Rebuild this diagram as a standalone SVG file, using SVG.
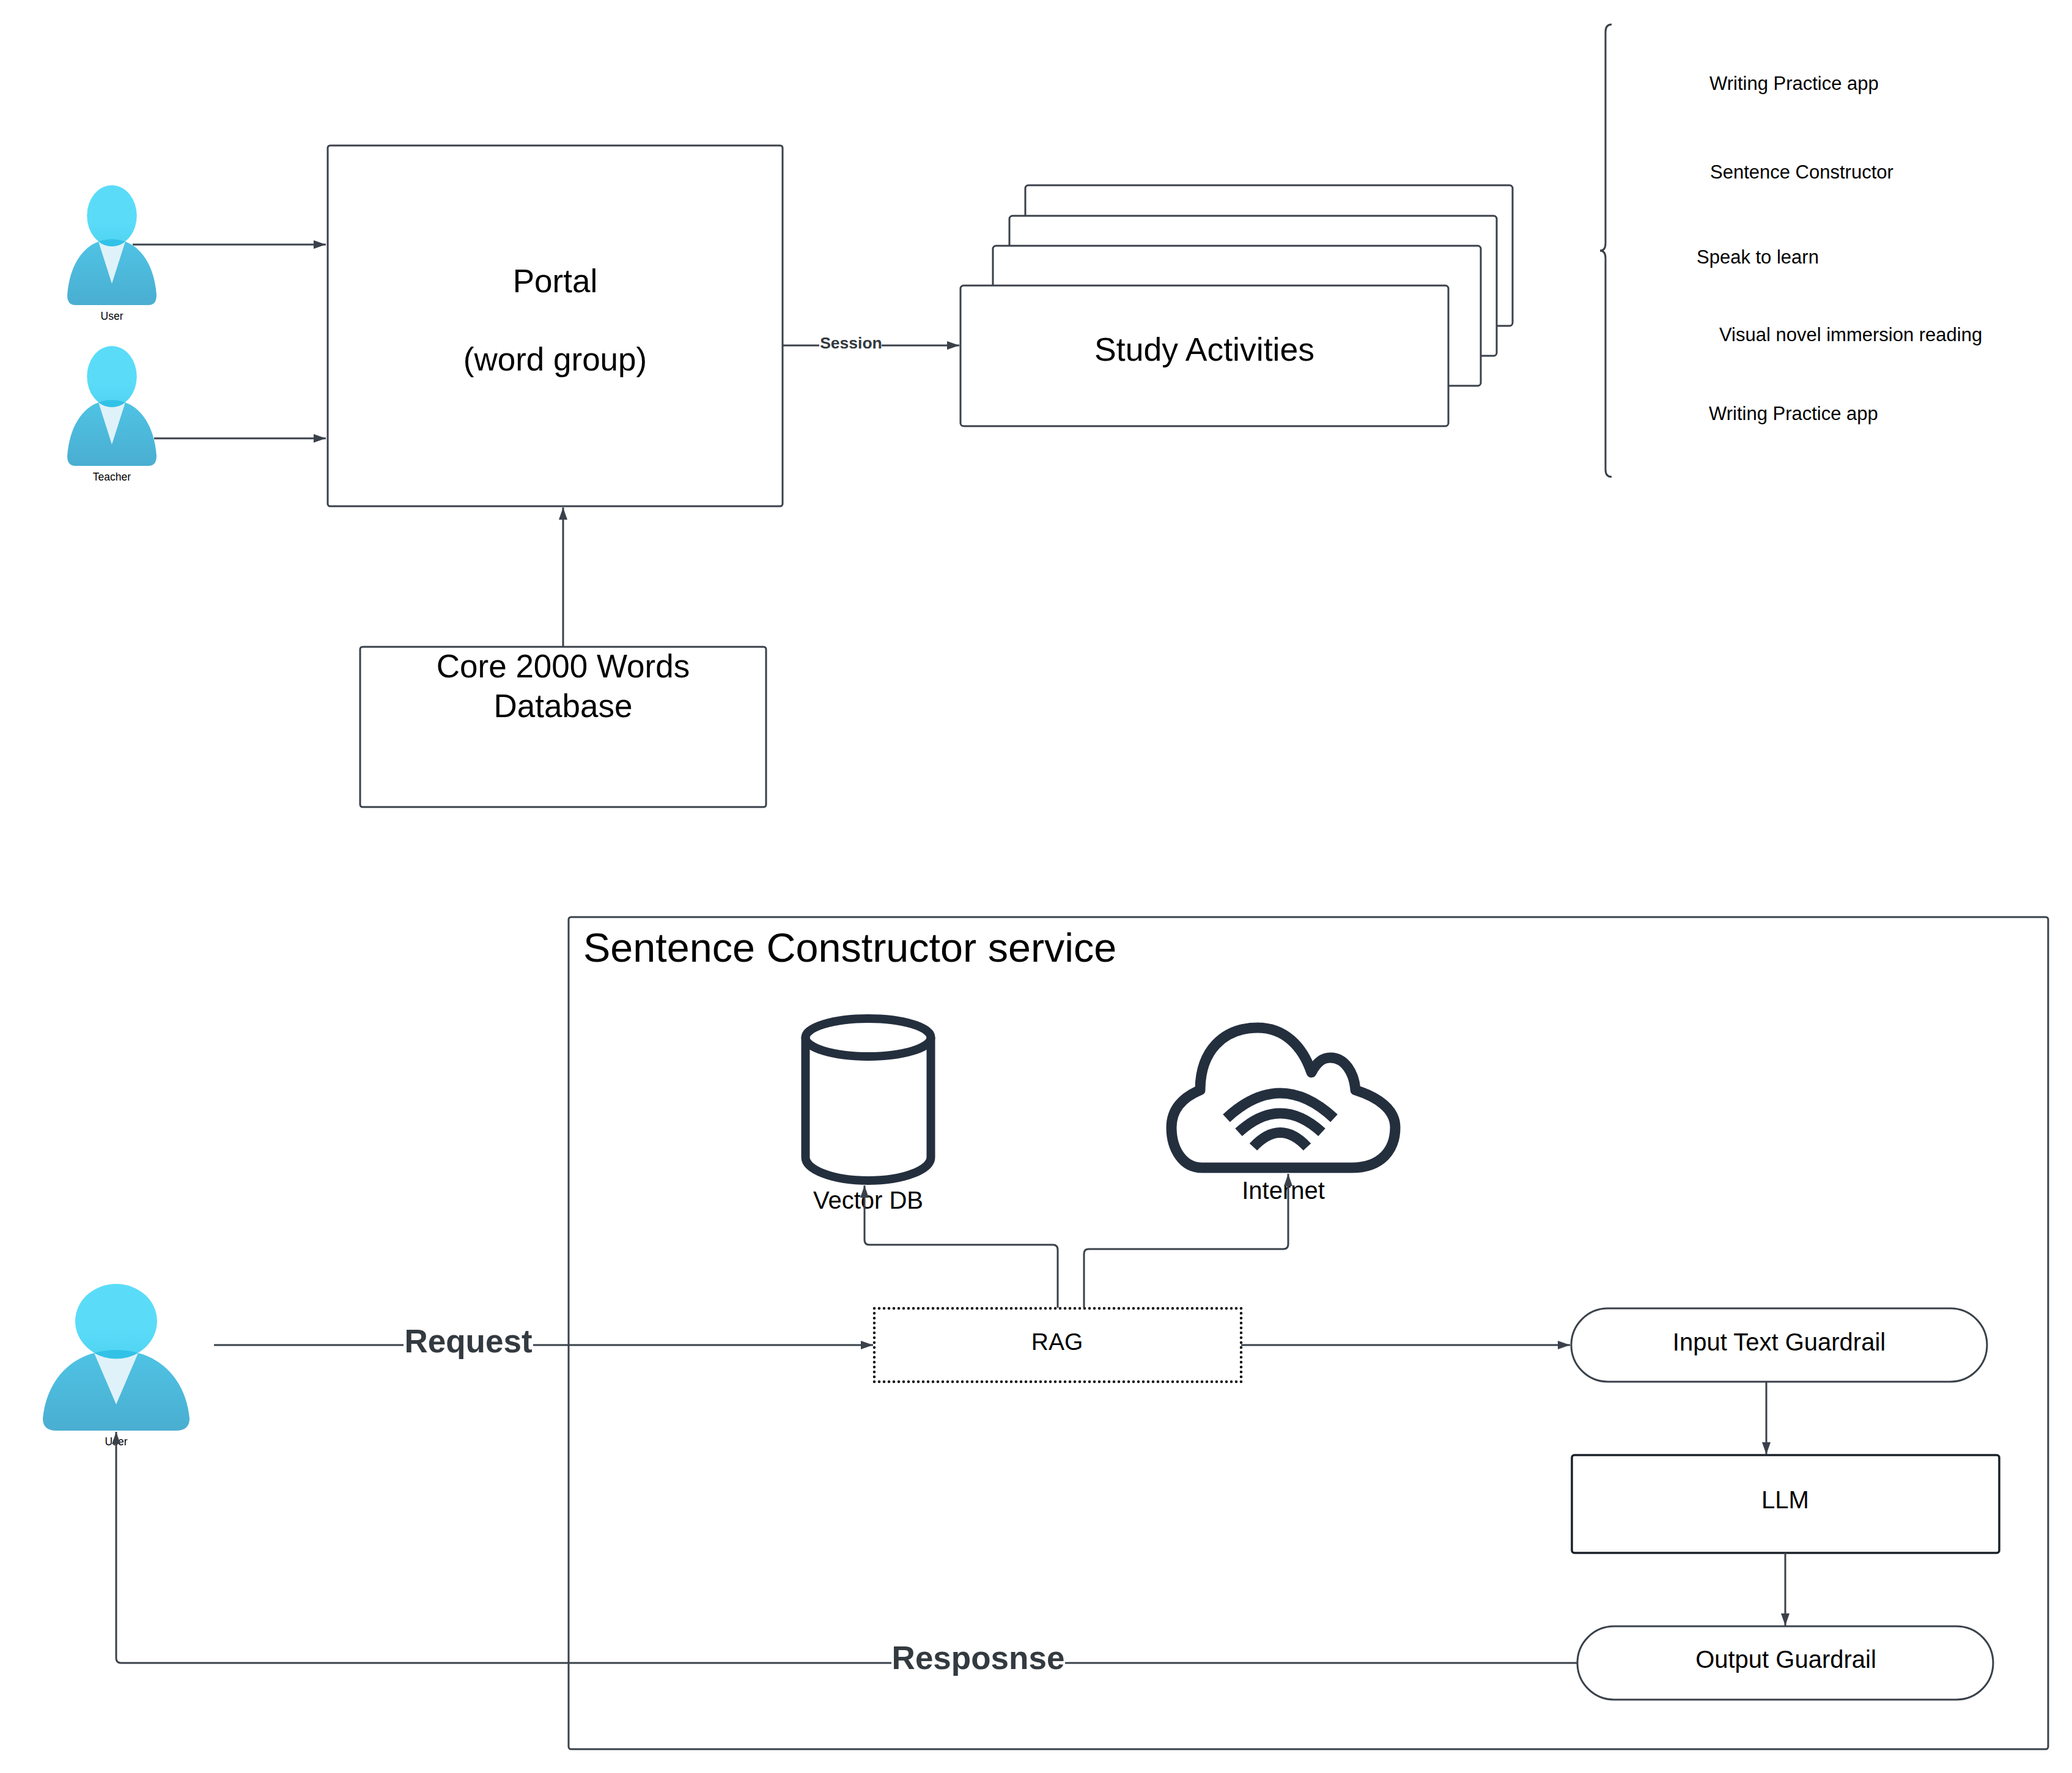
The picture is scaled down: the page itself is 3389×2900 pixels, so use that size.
<svg xmlns="http://www.w3.org/2000/svg" xmlns:xlink="http://www.w3.org/1999/xlink" width="3389" height="2900" viewBox="0 0 3389 2900">
<style>
text{font-family:"Liberation Sans",Arial,sans-serif;fill:#000}
.m{text-anchor:middle}
.f53{font-size:53px}.f40{font-size:40px}.f31{font-size:31px}.f17{font-size:17.5px}
.box{fill:#fff;stroke:#3a414a;stroke-width:3}
.conn{fill:none;stroke:#3a414a;stroke-width:3;stroke-linejoin:round;marker-end:url(#arrow)}
.lbl{font-weight:700;fill:#333a40}
.ink{fill:none;stroke:#242f3e;stroke-linejoin:round}
</style>
<defs>
<marker id="arrow" markerUnits="userSpaceOnUse" markerWidth="21" markerHeight="16" refX="20" refY="8" orient="auto"><path d="M0 1 L20 8 L0 15 Z" fill="#3a414a"/></marker>
<linearGradient id="hg" x1="0" y1="0" x2="0" y2="1"><stop offset="0" stop-color="#5adcf9"/><stop offset="0.6" stop-color="#5adcf9"/><stop offset="1" stop-color="#4fd3f1"/></linearGradient>
<linearGradient id="bg" x1="0" y1="0" x2="0" y2="1"><stop offset="0" stop-color="#4fc3e4"/><stop offset="1" stop-color="#4aaed1"/></linearGradient>
<symbol id="person" viewBox="0 0 240 240" preserveAspectRatio="none">
<path d="M22 240 Q0 240 0 220 C6 160 42 124 84 113 L156 113 C198 124 234 160 240 220 Q240 240 218 240 Z" fill="url(#bg)"/>
<path d="M84 113 L156 113 L120 197 Z" fill="#dff2f9"/>
<ellipse cx="120" cy="61" rx="67" ry="61" fill="url(#hg)"/>
<path d="M84 113 Q120 103 156 113 A67 61 0 0 1 84 113 Z" fill="#33c2e7"/>
</symbol>
</defs>
<rect width="3389" height="2900" fill="#fff"/>
<g id="user-top"><use xlink:href="#person" href="#person" x="110" y="303" width="146" height="196"/><text class="m f17" x="183" y="523">User</text></g>
<g id="teacher"><use xlink:href="#person" href="#person" x="110" y="566" width="146" height="196"/><text class="m f17" x="183" y="786">Teacher</text></g>
<g id="portal"><rect class="box" x="536" y="238" width="744" height="590" rx="4"/><text class="m f53" x="908" y="478">Portal</text><text class="m f53" x="908" y="606">(word group)</text></g>
<g id="study-stack">
<rect class="box" x="1677" y="303" width="797" height="230" rx="5"/>
<rect class="box" x="1651" y="353" width="797" height="229" rx="5"/>
<rect class="box" x="1624" y="402" width="798" height="229" rx="5"/>
<rect class="box" x="1571" y="467" width="798" height="230" rx="5"/>
<text class="m" font-size="53.5" x="1970" y="590">Study Activities</text></g>
<g id="core-db"><rect class="box" x="589" y="1058" width="664" height="262" rx="4"/><text class="m f53" x="921" y="1108">Core 2000 Words</text><text class="m f53" x="921" y="1173">Database</text></g>
<g id="activities-list"><path d="M2636 40 Q2626 40 2626 52 L2626 398 Q2626 410 2617 410 Q2626 410 2626 422 L2626 768 Q2626 780 2636 780" fill="none" stroke="#3a414a" stroke-width="3"/>
<text class="f31" x="2796" y="147">Writing Practice app</text>
<text class="f31" x="2797" y="292">Sentence Constructor</text>
<text class="f31" x="2775" y="431">Speak to learn</text>
<text class="f31" x="2812" y="558">Visual novel immersion reading</text>
<text class="f31" x="2795" y="687">Writing Practice app</text></g>
<g id="service"><rect x="930" y="1500" width="2420" height="1361" rx="4" fill="none" stroke="#3a414a" stroke-width="3"/><text x="954" y="1573" font-size="66.5">Sentence Constructor service</text></g>
<g id="vector-db"><path class="ink" stroke-width="14" d="M1317.5 1696 L1317.5 1893 C1317.5 1913 1362 1931 1420 1931 C1478 1931 1522.5 1913 1522.5 1893 L1522.5 1696"/><ellipse class="ink" stroke-width="14" cx="1420" cy="1697" rx="102.5" ry="31"/><text class="m f40" x="1420" y="1977">Vector DB</text></g>
<g id="internet"><path class="ink" stroke-width="17" d="M1966 1910 C1935 1910 1916 1880 1916 1844 C1916 1815 1934 1795 1963 1783 C1963 1720 2000 1681 2057 1681 C2100 1681 2130 1710 2145 1754 C2155 1735 2165 1730 2176 1730 C2200 1730 2215 1755 2217 1783 C2255 1795 2282 1815 2282 1844 C2282 1880 2260 1910 2211 1910 Z"/><path class="ink" stroke-width="17" d="M2006 1829 Q2094 1747 2182 1829 M2026 1852 Q2094 1790 2162 1852 M2050 1876 Q2094 1829 2138 1876"/><text class="m f40" x="2099" y="1961">Internet</text></g>
<g id="rag"><rect x="1430" y="2140" width="600" height="120" fill="#fff" stroke="#111" stroke-width="4.5" stroke-linecap="round" stroke-dasharray="0 8"/><text class="m" font-size="39" x="1729" y="2208">RAG</text></g>
<g id="input-guardrail"><rect class="box" x="2570" y="2140" width="680" height="120" rx="60"/><text class="m f40" x="2910" y="2209">Input Text Guardrail</text></g>
<g id="llm"><rect x="2571" y="2380" width="699" height="160" rx="4" fill="#fff" stroke="#1a2028" stroke-width="3.5"/><text class="m f40" x="2920" y="2467">LLM</text></g>
<g id="output-guardrail"><rect class="box" x="2580" y="2660" width="680" height="120" rx="60"/><text class="m f40" x="2921" y="2728">Output Guardrail</text></g>
<g id="user-bottom"><use xlink:href="#person" href="#person" x="70" y="2100" width="240" height="240"/><text class="m f17" x="190" y="2364">User</text></g>
<g id="connectors">
<path class="conn" d="M217 400 L533 400"/>
<path class="conn" d="M252 717 L533 717"/>
<path class="conn" d="M1280 565 L1569 565"/>
<path class="conn" d="M921 1058 L921 830"/>
<path class="conn" d="M1730 2139 L1730 2044 Q1730 2036 1722 2036 L1422 2036 Q1414 2036 1414 2028 L1414 1939"/>
<path class="conn" d="M1773 2139 L1773 2051 Q1773 2043 1781 2043 L2099 2043 Q2107 2043 2107 2035 L2107 1920"/>
<path class="conn" d="M350 2200 L1428 2200"/>
<path class="conn" d="M2030 2200 L2568 2200"/>
<path class="conn" d="M2889 2260 L2889 2379"/>
<path class="conn" d="M2920 2540 L2920 2659"/>
<path class="conn" d="M2580 2720 L198 2720 Q190 2720 190 2712 L190 2342"/>
<rect x="1340" y="550" width="102" height="28" fill="#fff"/><text class="m lbl" x="1392" y="570" font-size="26.5">Session</text>
<rect x="660" y="2170" width="212" height="60" fill="#fff"/><text class="m lbl f53" x="766" y="2212">Request</text>
<rect x="1458" y="2690" width="284" height="60" fill="#fff"/><text class="m lbl f53" x="1600" y="2730">Resposnse</text>
</g>
</svg>
